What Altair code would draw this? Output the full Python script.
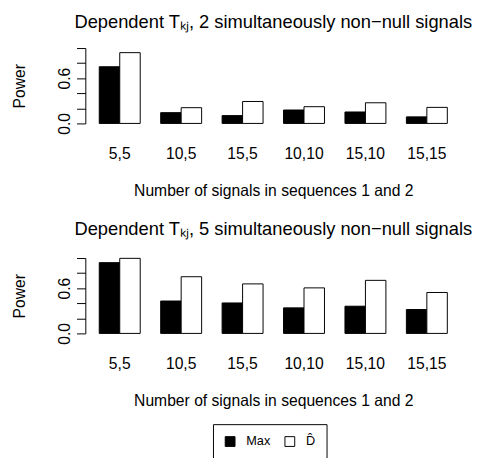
import altair as alt
import pandas as pd

groups = ["5,5", "10,5", "15,5", "10,10", "15,10", "15,15"]
series = ["Max", "D\u0302"]
max_2 = [0.752, 0.143, 0.104, 0.178, 0.152, 0.087]
dhat_2 = [0.939, 0.209, 0.291, 0.222, 0.274, 0.213]
max_5 = [0.939, 0.430, 0.404, 0.339, 0.361, 0.317]
dhat_5 = [0.996, 0.752, 0.657, 0.604, 0.704, 0.543]
y_ticks = [0.0, 0.2, 0.4, 0.6, 0.8, 1.0]
title_2 = "Dependent T\u2096\u2C7C, 2 simultaneously non\u2212null signals"
title_5 = "Dependent T\u2096\u2C7C, 5 simultaneously non\u2212null signals"
x_title = "Number of signals in sequences 1 and 2"
y_title = "Power"

FONT = "Liberation Sans"
AX = 16


def make_df(a, b):
    rows = []
    for g, va, vb in zip(groups, a, b):
        rows.append({"group": g, "series": series[0], "power": va})
        rows.append({"group": g, "series": series[1], "power": vb})
    return pd.DataFrame(rows)


def panel(df, title, offset, show_legend):
    legend = None
    if show_legend:
        legend = alt.Legend(
            title=None, orient="none", direction="horizontal",
            legendX=130.4, legendY=169.7,
            symbolType="square", symbolSize=100,
            symbolStrokeColor="black", symbolStrokeWidth=1,
            labelFont=FONT, labelFontSize=13, labelColor="black",
            labelOffset=10, columnPadding=12, padding=11,
            strokeColor="black", fillColor="white",
            gridAlign="all",
        )
    return alt.Chart(df).mark_bar(stroke="black", strokeWidth=1).encode(
        x=alt.X("group:N", sort=groups,
                scale=alt.Scale(paddingInner=1/3, paddingOuter=0.2267),
                axis=alt.Axis(title=x_title, labelAngle=0, domain=False, ticks=False,
                              tickSize=0, labelPadding=35.6, labelBaseline="alphabetic",
                              labelFont=FONT, labelFontSize=AX, labelColor="black",
                              titleFont=FONT, titleFontSize=AX, titleFontWeight="normal",
                              titleColor="black", titleX=192, titleY=73.5,
                              titleBaseline="alphabetic", titleAlign="center")),
        xOffset=alt.XOffset("series:N", sort=series,
                            scale=alt.Scale(paddingInner=0, paddingOuter=0)),
        y=alt.Y("power:Q", scale=alt.Scale(domain=[0, 1], nice=False, zero=True),
                axis=alt.Axis(title=y_title, values=y_ticks, format=".1f",
                              labelExpr="(datum.label == '0.0' || datum.label == '0.6') ? datum.label : ''",
                              grid=False, domainColor="black", tickColor="black",
                              tickSize=9, labelPadding=7.5, labelAngle=270,
                              labelAlign="center", labelBaseline="alphabetic",
                              labelFont=FONT, labelFontSize=AX, labelColor="black",
                              labelOverlap=False, labelFlush=False,
                              titleFont=FONT, titleFontSize=AX, titleFontWeight="normal",
                              titleColor="black", titleAngle=270, titleX=-62, titleY=38.5,
                              titleBaseline="alphabetic", titleAlign="center")),
        fill=alt.Fill("series:N", sort=series,
                      scale=alt.Scale(domain=series, range=["black", "white"]),
                      legend=legend),
    ).properties(
        width=384, height=77,
        title=alt.TitleParams(title, font=FONT, fontSize=18.7, fontWeight="normal",
                              color="black", anchor="middle", frame="group",
                              baseline="alphabetic", offset=offset),
    )


top = panel(make_df(max_2, dhat_2), title_2, 1, False)
bottom = panel(make_df(max_5, dhat_5), title_5, 4, True)

chart = alt.vconcat(top, bottom, spacing=21.5).resolve_scale(
    fill="independent").resolve_legend(fill="independent").properties(
    padding={"left": 4, "top": 0, "right": 0, "bottom": 0},
    background="white",
).configure_view(strokeWidth=0, stroke="transparent")

chart.save("out.html", embed_options={"renderer": "svg", "actions": False})
